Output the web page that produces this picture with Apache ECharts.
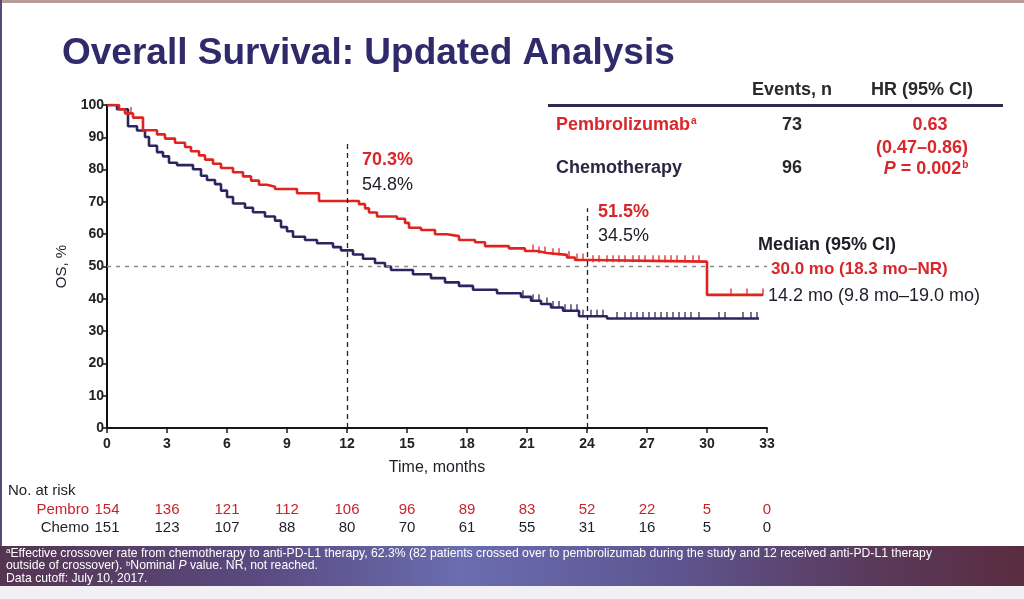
<!DOCTYPE html>
<html><head><meta charset="utf-8">
<script src="https://cdn.jsdelivr.net/npm/echarts@6/dist/echarts.min.js"></script>
<style>html,body{margin:0;padding:0;background:#fff}#c{width:1024px;height:599px}</style>
</head><body><div id="c"></div><script>
// ---- data ----
const months = [0, 3, 6, 9, 12, 15, 18, 21, 24, 27, 30, 33];
const yTicks = [0, 10, 20, 30, 40, 50, 60, 70, 80, 90, 100];
const pembroT = [0, 0.6, 0.9, 1.3, 1.8, 2.5, 2.9, 3.4, 3.9, 4.2, 4.6, 4.9, 5.3, 5.7, 6.3, 6.8, 7.2, 7.6, 8.0, 8.4, 9.5, 10.6, 12.6, 12.9, 13.1, 13.5, 14.5, 14.9, 15.1, 15.7, 16.4, 17.0, 17.6, 18.4, 18.9, 20.1, 20.9, 21.5, 22.0, 23.0, 23.4, 24.1, 30.0, 32.8];
const pembroS = [100, 98.7, 97.4, 96.1, 92.2, 90.9, 89.6, 88.3, 87.0, 85.7, 84.4, 83.1, 81.8, 80.5, 79.2, 77.9, 76.6, 75.3, 74.7, 74.0, 72.7, 70.3, 69.3, 68.0, 66.7, 65.5, 64.8, 63.5, 62.0, 61.3, 60.0, 59.4, 58.2, 57.5, 56.3, 55.6, 54.8, 54.2, 53.6, 52.8, 52.0, 51.5, 41.2, 41.2];
const chemoT = [0, 0.5, 1.05, 1.5, 1.9, 2.1, 2.5, 2.8, 3.1, 3.5, 4.3, 4.7, 5.0, 5.4, 5.7, 6.0, 6.3, 6.9, 7.3, 7.9, 8.4, 8.7, 9.0, 9.3, 9.9, 10.5, 11.3, 11.7, 12.3, 12.8, 13.4, 13.9, 14.2, 15.3, 16.2, 16.9, 17.6, 18.3, 19.5, 20.7, 21.2, 21.7, 22.2, 22.8, 23.6, 25.0, 32.6];
const chemoS = [100, 98.7, 93.4, 92.1, 90.1, 87.4, 85.4, 84.1, 82.1, 81.4, 80.1, 78.1, 76.8, 75.5, 73.5, 71.5, 69.5, 68.2, 66.8, 65.5, 64.2, 62.2, 60.9, 59.2, 58.2, 57.2, 56.0, 55.0, 53.7, 52.4, 51.1, 50.0, 48.9, 47.6, 46.4, 45.1, 44.0, 42.8, 41.7, 40.6, 39.4, 38.4, 37.3, 36.3, 34.6, 33.9, 33.9];
const pembroCensor = [1.2, 21.3, 21.6, 21.9, 22.3, 22.6, 23.1, 23.5, 23.8, 24.3, 24.6, 25.0, 25.3, 25.6, 25.9, 26.3, 26.6, 26.9, 27.3, 27.6, 27.9, 28.2, 28.5, 28.9, 29.3, 29.6, 31.2, 32.0, 32.8];
const chemoCensor = [20.8, 21.3, 21.6, 22.0, 22.3, 22.6, 22.9, 23.2, 23.5, 23.8, 24.2, 24.5, 24.8, 25.5, 25.9, 26.2, 26.5, 26.8, 27.1, 27.4, 27.7, 28.0, 28.3, 28.6, 28.9, 29.2, 29.6, 30.6, 30.9, 31.8, 32.2, 32.5];
const pembroRisk = [154, 136, 121, 112, 106, 96, 89, 83, 52, 22, 5, 0];
const chemoRisk = [151, 123, 107, 88, 80, 70, 61, 55, 31, 16, 5, 0];
const landmarks = [12, 24];
const landmarkTop = [88, 68];
const medianLevel = 50;

// ---- styling ----
const RED = '#e12320', NAVY = '#2b2560', TXT = '#1e1e28', TRED = '#d8262a';
const F = 'Liberation Sans, Arial, sans-serif';
const FN = 'Liberation Sans Narrow, Liberation Sans, Arial, sans-serif';

function stepAt(T, S, t) { let v = S[0]; for (let i = 0; i < T.length; i++) { if (T[i] <= t) v = S[i]; } return v; }
const pembroLine = pembroT.map((t, i) => [t, pembroS[i]]);
const chemoLine = chemoT.map((t, i) => [t, chemoS[i]]);
const pembroTicks = pembroCensor.map(t => [t, stepAt(pembroT, pembroS, t)]);
const chemoTicks = chemoCensor.map(t => [t, stepAt(chemoT, chemoS, t)]);

const chart = echarts.init(document.getElementById('c'), null, { renderer: 'canvas' });
const dashV = { color: '#222', type: [5, 4], width: 1.3 };
const dashH = { color: '#8a8a8a', type: [4, 5], width: 1.4 };
const mlData = landmarks.map((m, i) => [{ coord: [m, 0], lineStyle: dashV }, { coord: [m, landmarkTop[i]] }]);
mlData.push([{ coord: [0, medianLevel], lineStyle: dashH }, { coord: [months[months.length - 1], medianLevel] }]);

const option = {
  backgroundColor: '#ffffff',
  animation: false,
  textStyle: { fontFamily: F },
  grid: { left: 107, right: 257, top: 105, bottom: 171, containLabel: false },
  xAxis: {
    type: 'value', min: 0, max: 33, interval: 3,
    name: 'Time, months', nameLocation: 'middle', nameGap: 32,
    nameTextStyle: { fontFamily: FN, fontSize: 16, color: TXT },
    axisLine: { show: true, lineStyle: { color: '#1a1414', width: 2 } },
    axisTick: { show: true, length: 5, lineStyle: { color: '#1a1414', width: 1.5 } },
    axisLabel: { fontSize: 14, fontWeight: 'bold', color: '#222', margin: 9, fontFamily: F },
    splitLine: { show: false }
  },
  yAxis: {
    type: 'value', min: 0, max: 100, interval: 10,
    name: 'OS, %', nameLocation: 'middle', nameGap: 38, nameRotate: 90,
    nameTextStyle: { fontSize: 15, color: TXT, fontFamily: F },
    axisLine: { show: true, lineStyle: { color: '#111', width: 2 } },
    axisTick: { show: true, length: 4, lineStyle: { color: '#111', width: 1.5 } },
    axisLabel: { fontSize: 14, fontWeight: 'bold', color: '#222', margin: 3, fontFamily: F },
    splitLine: { show: false }
  },
  series: [
    { name: 'Chemotherapy', type: 'line', step: 'end', data: chemoLine, showSymbol: false, lineStyle: { color: NAVY, width: 2.6 }, z: 3 },
    { name: 'Pembrolizumab', type: 'line', step: 'end', data: pembroLine, showSymbol: false, lineStyle: { color: RED, width: 2.6 }, z: 4,
      markLine: { silent: true, symbol: ['none', 'none'], label: { show: false }, data: mlData } },
    { name: 'Chemo censored', type: 'scatter', data: chemoTicks, symbol: 'rect', symbolSize: [1.6, 7], symbolOffset: [0, -3], itemStyle: { color: NAVY }, z: 3 },
    { name: 'Pembro censored', type: 'scatter', data: pembroTicks, symbol: 'rect', symbolSize: [1.6, 7], symbolOffset: [0, -3], itemStyle: { color: RED }, z: 4 }
  ]
};
chart.setOption(option);

// ---- text / annotations ----
const g = [];
function txt(x, y, s, o) {
  g.push({ type: 'text', x: x, y: y, silent: true, style: Object.assign({ text: s, fontFamily: F, fontSize: 18, fill: TXT, verticalAlign: 'middle' }, o || {}) });
}
// frame accents
g.push({ type: 'rect', shape: { x: 0, y: 0, width: 1024, height: 3 }, style: { fill: '#b89a98' }, silent: true });
g.push({ type: 'rect', shape: { x: 0, y: 0, width: 2, height: 546 }, style: { fill: '#5a4a78' }, silent: true });
// title
txt(62, 54, 'Overall Survival: Updated Analysis', { fontSize: 37, fontWeight: 'bold', fill: '#30296a' });
// table
txt(792, 90, 'Events, n', { fontSize: 18, fontWeight: 'bold', fill: '#2a2a2a', align: 'center' });
txt(922, 90, 'HR (95% CI)', { fontSize: 18, fontWeight: 'bold', fill: '#2a2a2a', align: 'center' });
g.push({ type: 'rect', shape: { x: 548, y: 104, width: 455, height: 3 }, style: { fill: '#2f2850' }, silent: true });
g.push({ type: 'text', x: 556, y: 125, silent: true, style: { text: '{a|Pembrolizumab}{s|a}', verticalAlign: 'middle', rich: { a: { fontFamily: F, fontSize: 18, fontWeight: 'bold', fill: TRED }, s: { fontFamily: F, fontSize: 10, fontWeight: 'bold', fill: TRED, padding: [0, 0, 8, 1] } } } });
txt(792, 125, '73', { fontWeight: 'bold', fill: '#2a2a2a', align: 'center' });
txt(930, 125, '0.63', { fontWeight: 'bold', fill: TRED, align: 'center' });
txt(922, 148, '(0.47–0.86)', { fontWeight: 'bold', fill: TRED, align: 'center' });
txt(556, 168, 'Chemotherapy', { fontWeight: 'bold', fill: '#2a2840' });
txt(792, 168, '96', { fontWeight: 'bold', fill: '#2a2a2a', align: 'center' });
g.push({ type: 'text', x: 926, y: 169, silent: true, style: { text: '{i|P}{a| = 0.002}{s|b}', align: 'center', verticalAlign: 'middle', rich: { i: { fontFamily: F, fontSize: 18, fontWeight: 'bold', fontStyle: 'italic', fill: TRED }, a: { fontFamily: F, fontSize: 18, fontWeight: 'bold', fill: TRED }, s: { fontFamily: F, fontSize: 10, fontWeight: 'bold', fill: TRED, padding: [0, 0, 8, 1] } } } });
// landmark annotations
txt(362, 160, '70.3%', { fontSize: 18, fontWeight: 'bold', fill: TRED });
txt(362, 185, '54.8%', { fontSize: 18, fill: TXT });
txt(598, 212, '51.5%', { fontSize: 18, fontWeight: 'bold', fill: TRED });
txt(598, 236, '34.5%', { fontSize: 18, fill: TXT });
// medians
txt(758, 245, 'Median (95% CI)', { fontSize: 18, fontWeight: 'bold', fill: TXT });
txt(771, 269, '30.0 mo (18.3 mo–NR)', { fontSize: 17, fontWeight: 'bold', fill: TRED });
txt(768, 296, '14.2 mo (9.8 mo–19.0 mo)', { fontSize: 18, fill: TXT });
// at-risk
txt(8, 491, 'No. at risk', { fontFamily: FN, fontSize: 15, fill: TXT });
txt(89, 510, 'Pembro', { fontFamily: FN, fontSize: 15, fill: '#c8242a', align: 'right' });
txt(89, 528, 'Chemo', { fontFamily: FN, fontSize: 15, fill: TXT, align: 'right' });
months.forEach((m, i) => {
  const x = chart.convertToPixel({ xAxisIndex: 0 }, m);
  txt(x, 510, String(pembroRisk[i]), { fontFamily: FN, fontSize: 15, fill: '#c8242a', align: 'center' });
  txt(x, 528, String(chemoRisk[i]), { fontFamily: FN, fontSize: 15, fill: TXT, align: 'center' });
});
// footer band
g.push({ type: 'rect', silent: true, shape: { x: 0, y: 546, width: 1024, height: 40 },
  style: { fill: new echarts.graphic.LinearGradient(0, 0, 1, 0, [
    { offset: 0, color: '#553451' }, { offset: 0.25, color: '#5a4a80' }, { offset: 0.45, color: '#6a6db0' },
    { offset: 0.65, color: '#5e5692' }, { offset: 0.85, color: '#5a3a5c' }, { offset: 1, color: '#5a2c40' }]) } });
g.push({ type: 'text', x: 6, y: 547, silent: true, style: {
  text: '{s|a}{t|Effective crossover rate from chemotherapy to anti-PD-L1 therapy, 62.3% (82 patients crossed over to pembrolizumab during the study and 12 received anti-PD-L1 therapy}\n{t|outside of crossover). }{s|b}{t|Nominal }{i|P}{t| value. NR, not reached.}\n{t|Data cutoff: July 10, 2017.}',
  rich: {
    t: { fontFamily: FN, fontSize: 12.2, fill: '#ffffff', lineHeight: 12.5 },
    i: { fontFamily: FN, fontSize: 12.2, fontStyle: 'italic', fill: '#ffffff', lineHeight: 12.5 },
    s: { fontFamily: FN, fontSize: 8, fill: '#ffffff', lineHeight: 12.5, padding: [0, 0, 4, 0] }
  } } });
g.push({ type: 'rect', shape: { x: 0, y: 586, width: 1024, height: 13 }, style: { fill: '#f2f0f2' }, silent: true });
chart.setOption({ graphic: g });
</script></body></html>
